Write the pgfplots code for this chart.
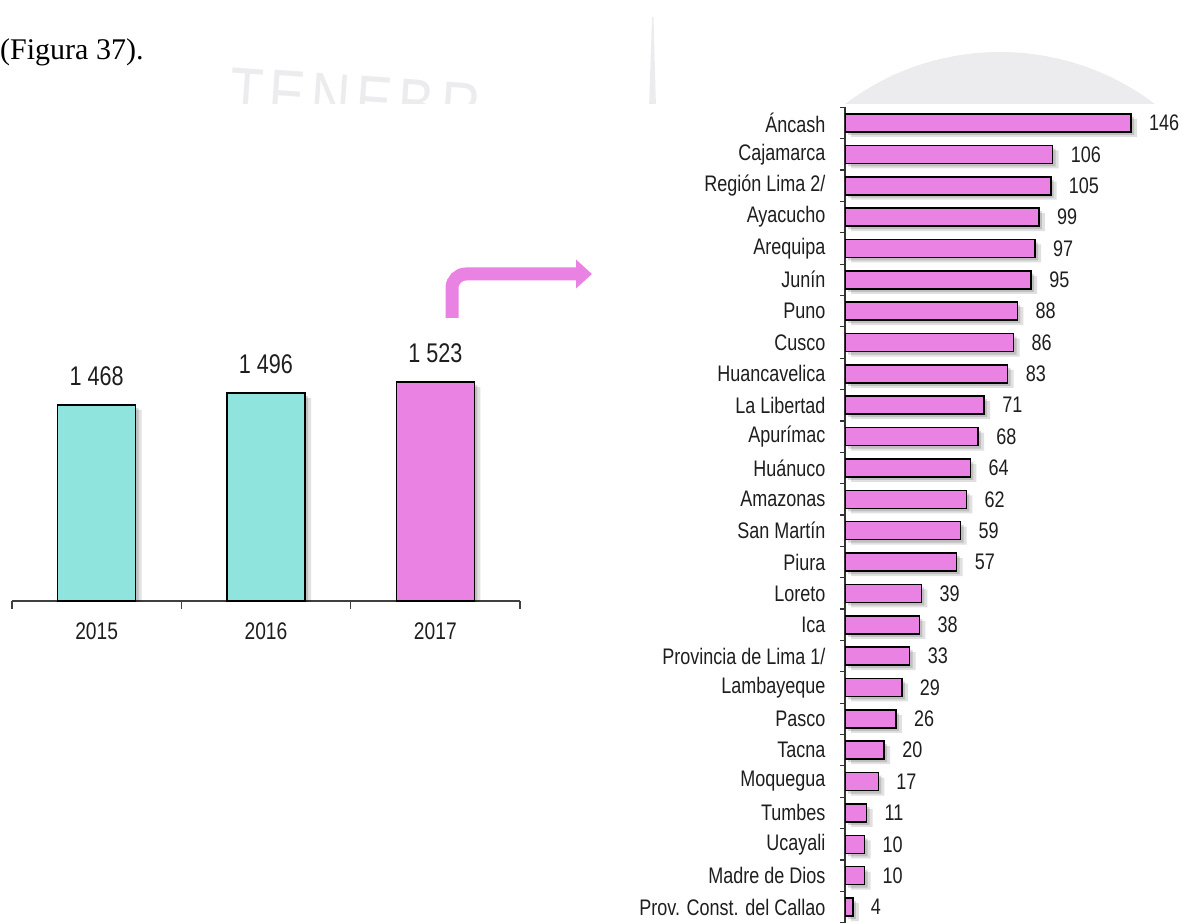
\documentclass[border=0pt]{standalone}
\usepackage{pgfplots}
\pgfplotsset{compat=1.18}
\usepackage{fontspec}
\setmainfont{Liberation Sans}[FakeStretch=0.8]
\newfontfamily\seriffont{Liberation Serif}
\usetikzlibrary{arrows.meta}
\definecolor{teal1}{RGB}{143,228,222}
\definecolor{pink1}{RGB}{234,130,228}
\definecolor{wm}{RGB}{236,236,238}
\definecolor{txt}{RGB}{30,30,30}
\begin{document}
\begin{tikzpicture}[x=1pt,y=1pt]
\useasboundingbox (0,0) rectangle (1183,922);
% watermark
\begin{scope}
\clip (0,818) rectangle (1183,922);
\fill[wm] (1000,613.4) circle (256.6);
\fill[wm] (649,814) -- (652,905) -- (653.5,905) -- (656,814) -- cycle;
\node[text=wm, font=\fontsize{68}{68}\selectfont, rotate=-4, anchor=base west, inner sep=0pt]
  at (228,808) {T\hspace{6pt}E\hspace{6pt}N\hspace{6pt}E\hspace{6pt}B\hspace{6pt}R};
\end{scope}
\node[anchor=base west, inner sep=0pt, font=\seriffont\fontsize{30}{31}\selectfont] at (0,862) {(Figura 37).};
% arrow
\draw[pink1, line width=13pt, rounded corners=14pt, -{Triangle[length=16pt,width=28pt]}] (452,604) |- (592,648);
% left chart
\begin{axis}[at={(12pt,321pt)}, anchor=south west, scale only axis,
  width=508pt, height=300pt,
  xmin=-0.5, xmax=2.5, ymin=1000, ymax=1716,
  axis x line*=bottom, axis y line=none,
  xtick={0,1,2}, xticklabels={2015,2016,2017},
  major tick length=0pt,
  minor xtick={-0.5,0.5,1.5,2.5}, minor tick length=8pt, tick align=outside,
  x axis line style={draw=black!75, line width=1.2pt},
  xtick style={draw=black!75, line width=1.2pt},
  xticklabel style={font=\fontsize{24}{26}\selectfont, text=txt, yshift=-18pt},
  ytick=\empty,
  ybar, bar width=78pt,
  every node near coord/.append style={font=\fontsize{27}{29}\selectfont, text=txt, yshift=15.5pt},
]
\addplot[fill=black, opacity=0.12, draw=none, bar shift=0pt, xshift=6pt, yshift=-5pt] coordinates {(0,1468) (1,1496) (2,1523)};
\addplot[fill=black, opacity=0.15, draw=none, bar shift=0pt, xshift=3pt, yshift=-3pt] coordinates {(0,1468) (1,1496) (2,1523)};
\addplot[fill=teal1, draw=black, line width=1.5pt, bar shift=0pt,
  nodes near coords={\pgfmathprintnumber[1000 sep={\ }, assume math mode=true]{\pgfplotspointmeta}}]
  coordinates {(0,1468) (1,1496)};
\addplot[fill=pink1, draw=black, line width=1.5pt, bar shift=0pt,
  nodes near coords={\pgfmathprintnumber[1000 sep={\ }, assume math mode=true]{\pgfplotspointmeta}}]
  coordinates {(2,1523)};
\end{axis}
% right chart
\begin{axis}[at={(845pt,-0.7pt)}, anchor=south west, scale only axis,
  width=337pt, height=815.4pt,
  xmin=0, xmax=172, ymin=-0.5, ymax=25.5,
  axis y line*=left, axis x line=none,
  xbar, bar width=18pt,
  ytick={0,...,25},
  yticklabels={Prov. Const. del Callao, Madre de Dios, Ucayali, Tumbes, Moquegua, Tacna, Pasco, Lambayeque, Provincia de Lima 1/, Ica, Loreto, Piura, San Martín, Amazonas, Huánuco, Apurímac, La Libertad, Huancavelica, Cusco, Puno, Junín, Arequipa, Ayacucho, Región Lima 2/, Cajamarca, Áncash},
  major tick length=0pt,
  minor ytick={-0.5,0.5,...,25.5}, minor tick length=5pt, tick align=outside,
  y axis line style={draw=black!80, line width=1.2pt},
  ytick style={draw=black!80, line width=1.2pt},
  yticklabel style={font=\fontsize{22.5}{24}\selectfont, text=txt, xshift=-16pt},
  xtick=\empty,
  every node near coord/.append style={font=\fontsize{22.5}{24}\selectfont, text=txt, anchor=west, xshift=14pt},
]
\addplot[fill=black, opacity=0.12, draw=none, bar shift=0pt, xshift=6pt, yshift=-5pt] coordinates {
(4,0) (10,1) (10,2) (11,3) (17,4) (20,5) (26,6) (29,7) (33,8) (38,9) (39,10) (57,11) (59,12)
(62,13) (64,14) (68,15) (71,16) (83,17) (86,18) (88,19) (95,20) (97,21) (99,22) (105,23) (106,24) (146,25)};
\addplot[fill=black, opacity=0.15, draw=none, bar shift=0pt, xshift=3pt, yshift=-3pt] coordinates {
(4,0) (10,1) (10,2) (11,3) (17,4) (20,5) (26,6) (29,7) (33,8) (38,9) (39,10) (57,11) (59,12)
(62,13) (64,14) (68,15) (71,16) (83,17) (86,18) (88,19) (95,20) (97,21) (99,22) (105,23) (106,24) (146,25)};
\addplot[fill=pink1, draw=black, line width=1.6pt, bar shift=0pt,
  nodes near coords={\pgfmathprintnumber[assume math mode=true]{\pgfplotspointmeta}}] coordinates {
(4,0) (10,1) (10,2) (11,3) (17,4) (20,5) (26,6) (29,7) (33,8) (38,9) (39,10) (57,11) (59,12)
(62,13) (64,14) (68,15) (71,16) (83,17) (86,18) (88,19) (95,20) (97,21) (99,22) (105,23) (106,24) (146,25)};
\end{axis}
\end{tikzpicture}
\end{document}
